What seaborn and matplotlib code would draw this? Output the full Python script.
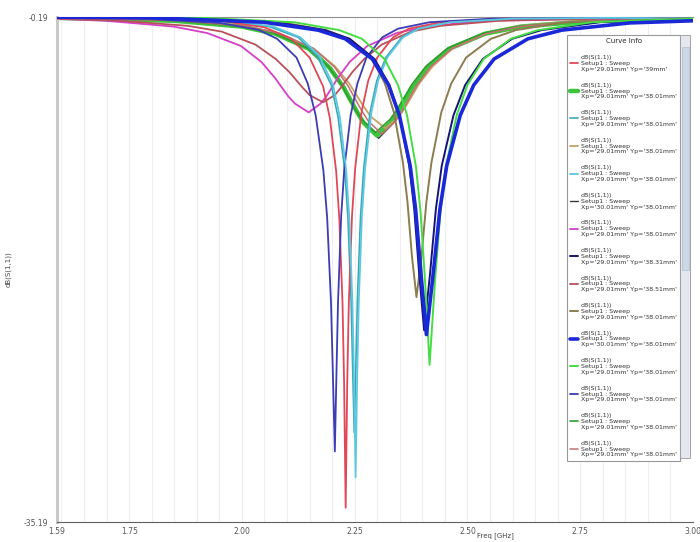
import seaborn as sns
import pandas as pd
import matplotlib.pyplot as plt
import numpy as np
from matplotlib.patches import Rectangle

# S11 sweep curves (freq in GHz, value in dB)

red_f = [1.59, 1.80, 1.95, 2.05, 2.11, 2.15, 2.18, 2.195, 2.209, 2.216, 2.223, 2.2265, 2.230, 2.2335, 2.237, 2.244, 2.251, 2.265, 2.28, 2.30, 2.335, 2.37, 2.44, 2.58, 2.80, 3.00]
red_db = [-0.25, -0.3, -0.45, -0.9, -1.7, -3.0, -5.0, -7.2, -10.9, -14.2, -20.0, -25.5, -34.2, -25.5, -20.0, -14.0, -10.7, -6.8, -4.6, -3.0, -1.6, -1.0, -0.55, -0.3, -0.25, -0.3]

cyan_f = [1.59, 1.82, 1.97, 2.07, 2.13, 2.172, 2.202, 2.217, 2.231, 2.238, 2.245, 2.2485, 2.252, 2.2555, 2.259, 2.266, 2.273, 2.287, 2.302, 2.322, 2.357, 2.392, 2.462, 2.60, 2.82, 3.00]
cyan_db = [-0.22, -0.28, -0.42, -0.85, -1.6, -2.9, -4.9, -7.1, -10.8, -14.1, -20.0, -25.2, -32.1, -25.2, -20.0, -14.0, -10.7, -6.8, -4.6, -3.0, -1.6, -1.0, -0.55, -0.3, -0.25, -0.3]

teal_f = [1.59, 1.81, 1.96, 2.06, 2.125, 2.167, 2.198, 2.213, 2.228, 2.235, 2.242, 2.2455, 2.249, 2.2525, 2.256, 2.263, 2.270, 2.284, 2.299, 2.319, 2.354, 2.389, 2.459, 2.60, 2.82, 3.00]
teal_db = [-0.22, -0.28, -0.42, -0.85, -1.6, -2.9, -4.9, -7.1, -10.8, -14.1, -19.8, -24.5, -29.0, -24.5, -19.8, -14.0, -10.7, -6.8, -4.6, -3.0, -1.6, -1.0, -0.55, -0.3, -0.25, -0.3]

indigo_f = [1.59, 1.78, 1.951, 2.036, 2.078, 2.121, 2.146, 2.1635, 2.1805, 2.189, 2.1975, 2.2017, 2.206, 2.2095, 2.213, 2.220, 2.227, 2.241, 2.256, 2.276, 2.311, 2.346, 2.416, 2.556, 2.80, 3.00]
indigo_db = [-0.22, -0.3, -0.6, -1.07, -1.7, -3.0, -4.8, -7.0, -10.8, -14.1, -20.0, -25.0, -30.3, -25.0, -20.0, -14.0, -10.7, -7.0, -4.8, -3.0, -1.6, -1.0, -0.55, -0.3, -0.25, -0.3]

blue_f = [1.59, 1.809, 2.049, 2.169, 2.229, 2.289, 2.325, 2.349, 2.373, 2.385, 2.397, 2.409, 2.424, 2.439, 2.454, 2.484, 2.514, 2.559, 2.634, 2.709, 2.859, 3.00]
blue_db = [-0.2, -0.25, -0.55, -1.1, -1.7, -3.1, -4.9, -7.0, -10.5, -13.5, -18.0, -22.2, -18.0, -13.5, -10.5, -7.0, -4.9, -3.1, -1.7, -1.1, -0.6, -0.45]

navy_f = [1.59, 1.854, 2.074, 2.184, 2.239, 2.294, 2.327, 2.349, 2.371, 2.382, 2.393, 2.404, 2.417, 2.430, 2.443, 2.469, 2.495, 2.534, 2.599, 2.664, 2.794, 3.00]
navy_db = [-0.2, -0.25, -0.55, -1.1, -1.7, -3.1, -4.9, -7.0, -10.5, -13.5, -18.0, -21.9, -18.0, -13.5, -10.5, -7.0, -4.9, -3.1, -1.7, -1.1, -0.55, -0.35]

lgreen_f = [1.59, 1.916, 2.116, 2.216, 2.266, 2.316, 2.346, 2.366, 2.386, 2.396, 2.406, 2.416, 2.428, 2.440, 2.452, 2.476, 2.500, 2.536, 2.596, 2.656, 2.776, 3.00]
lgreen_db = [-0.2, -0.25, -0.55, -1.1, -1.7, -3.1, -4.9, -7.0, -10.6, -13.7, -18.5, -24.3, -18.5, -13.7, -10.6, -7.0, -4.9, -3.1, -1.7, -1.1, -0.55, -0.3]

olive_f = [1.59, 1.887, 2.087, 2.187, 2.237, 2.287, 2.317, 2.337, 2.357, 2.367, 2.377, 2.387, 2.398, 2.409, 2.420, 2.442, 2.464, 2.497, 2.552, 2.607, 2.717, 3.00]
olive_db = [-0.2, -0.25, -0.55, -1.1, -1.7, -3.0, -4.8, -6.8, -10.3, -13.0, -16.8, -19.6, -16.8, -13.0, -10.3, -6.8, -4.8, -3.0, -1.7, -1.1, -0.55, -0.3]

magenta_f = [1.59, 1.698, 1.848, 1.923, 1.998, 2.043, 2.073, 2.103, 2.118, 2.148, 2.174, 2.187, 2.213, 2.239, 2.278, 2.343, 2.408, 2.538, 2.80, 3.00]
magenta_db = [-0.32, -0.45, -0.85, -1.3, -2.2, -3.3, -4.4, -5.7, -6.2, -6.8, -6.2, -5.7, -4.4, -3.3, -2.2, -1.3, -0.85, -0.45, -0.3, -0.35]

rose_f = [1.59, 1.730, 1.880, 1.955, 2.030, 2.075, 2.105, 2.135, 2.150, 2.180, 2.206, 2.219, 2.245, 2.271, 2.310, 2.375, 2.440, 2.570, 2.80, 3.00]
rose_db = [-0.3, -0.45, -0.8, -1.2, -2.1, -3.1, -4.0, -5.1, -5.6, -6.1, -5.6, -5.1, -4.0, -3.1, -2.1, -1.2, -0.8, -0.45, -0.3, -0.35]

green_f = [1.59, 1.849, 1.999, 2.074, 2.149, 2.194, 2.224, 2.254, 2.269, 2.299, 2.331, 2.347, 2.379, 2.411, 2.459, 2.539, 2.619, 2.779, 3.00]
green_db = [-0.25, -0.45, -0.85, -1.35, -2.4, -3.7, -5.0, -6.7, -7.5, -8.4, -7.5, -6.7, -5.0, -3.7, -2.4, -1.35, -0.85, -0.45, -0.3]

dgray_f = [1.59, 1.853, 2.003, 2.078, 2.153, 2.198, 2.228, 2.258, 2.273, 2.303, 2.334, 2.349, 2.380, 2.411, 2.458, 2.536, 2.613, 2.768, 3.00]
dgray_db = [-0.22, -0.45, -0.85, -1.35, -2.4, -3.7, -5.05, -6.8, -7.6, -8.6, -7.6, -6.8, -5.05, -3.7, -2.4, -1.35, -0.85, -0.45, -0.28]

green2_f = [1.59, 1.846, 1.996, 2.071, 2.146, 2.191, 2.221, 2.251, 2.266, 2.296, 2.328, 2.344, 2.376, 2.408, 2.456, 2.536, 2.616, 2.776, 3.00]
green2_db = [-0.25, -0.43, -0.82, -1.3, -2.35, -3.6, -4.9, -6.6, -7.3, -8.2, -7.3, -6.6, -4.9, -3.6, -2.35, -1.3, -0.82, -0.43, -0.3]

tan_f = [1.59, 1.838, 1.998, 2.078, 2.158, 2.206, 2.238, 2.270, 2.286, 2.318, 2.348, 2.363, 2.393, 2.423, 2.468, 2.543, 2.618, 2.768, 3.00]
tan_db = [-0.25, -0.4, -0.8, -1.3, -2.35, -3.6, -4.8, -6.4, -7.1, -7.9, -7.1, -6.4, -4.8, -3.6, -2.35, -1.3, -0.8, -0.4, -0.3]

rosew_f = [1.59, 1.860, 2.010, 2.085, 2.160, 2.205, 2.235, 2.265, 2.280, 2.310, 2.341, 2.356, 2.387, 2.418, 2.465, 2.543, 2.620, 2.775, 3.00]
rosew_db = [-0.24, -0.43, -0.83, -1.33, -2.4, -3.65, -4.95, -6.65, -7.4, -8.3, -7.4, -6.65, -4.95, -3.65, -2.4, -1.33, -0.83, -0.43, -0.3]

# legend order as in the "Curve Info" box, with the Xp / Yp sweep values
yp_labels = ["39mm", "38.01mm", "38.01mm", "38.01mm", "38.01mm", "38.01mm", "38.01mm", "38.31mm",
             "38.51mm", "38.01mm", "38.01mm", "38.01mm", "38.01mm", "38.01mm", "38.01mm"]
xp_labels = ["29.01mm", "29.01mm", "29.01mm", "29.01mm", "29.01mm", "30.01mm", "29.01mm", "29.01mm",
             "29.01mm", "29.01mm", "30.01mm", "29.01mm", "29.01mm", "29.01mm", "29.01mm"]

# (freq, dB, colour, linewidth, draw order)
curves = [
    (red_f, red_db, "#e04858", 1.3, 8),
    (green_f, green_db, "#3cc43c", 3.2, 1),
    (teal_f, teal_db, "#3aa8b8", 1.2, 7),
    (tan_f, tan_db, "#c8a064", 1.3, 2),
    (cyan_f, cyan_db, "#5cc8e0", 1.3, 9),
    (dgray_f, dgray_db, "#3a3a3a", 1.0, 0),
    (magenta_f, magenta_db, "#d63fc8", 1.3, 5),
    (navy_f, navy_db, "#141478", 1.4, 11),
    (rose_f, rose_db, "#b8505a", 1.3, 6),
    (olive_f, olive_db, "#8c7c50", 1.4, 10),
    (blue_f, blue_db, "#1a28d8", 2.6, 13),
    (lgreen_f, lgreen_db, "#44dd44", 1.4, 12),
    (indigo_f, indigo_db, "#3c3cb4", 1.3, 8),
    (green2_f, green2_db, "#2e9e2e", 1.2, 3),
    (rosew_f, rosew_db, "#c07070", 1.1, 4),
]

sns.set_style("white")
plt.rcParams["font.family"] = ["DejaVu Sans"]

fig = plt.figure(figsize=(7, 5.42), dpi=100)
ax = fig.add_axes([0.0814, 0.0369, 0.9086, 0.9317])

for i, (f, db, col, lw, z) in enumerate(curves):
    lab = "dB(S(1,1))\nSetup1 : Sweep\nXp='%s' Yp='%s'" % (xp_labels[i], yp_labels[i])
    df = pd.DataFrame({"freq": f, "db": db})
    sns.lineplot(data=df, x="freq", y="db", ax=ax, color=col, lw=lw, zorder=2 + z * 0.1, label=lab)

ax.set_xlim(1.59, 3.00)
ax.set_ylim(-35.19, -0.19)

ax.set_xticks([1.59, 1.75, 2.00, 2.25, 2.50, 2.75, 3.00])
ax.set_xticklabels(["1.59", "1.75", "2.00", "2.25", "2.50", "2.75", "3.00"])
ax.set_xticks(np.arange(1.60, 3.0, 0.05), minor=True)
ax.set_yticks([-35.19, -0.19])
ax.set_yticklabels(["-35.19", "-0.19"])
ax.tick_params(axis="both", labelsize=5.5, colors="#555555", direction="in", length=3)
ax.tick_params(axis="x", which="minor", direction="in", length=2, color="#777777")
ax.tick_params(axis="y", length=3, direction="out")

ax.grid(True, axis="x", which="both", color="#eeeeee", lw=0.8)

ax.spines["left"].set_color("#c8c8c8")
ax.spines["left"].set_linewidth(2.2)
ax.spines["bottom"].set_color("#606060")
ax.spines["top"].set_color("#909090")
ax.spines["right"].set_visible(False)

ax.set_xlabel("Freq [GHz]", fontsize=5, color="#444444")
ax.xaxis.set_label_coords(0.69, -0.021)
ax.set_ylabel("dB(S(1,1))", fontsize=5, color="#444444")
ax.yaxis.set_label_coords(-0.071, 0.5)

leg = ax.legend(loc="upper left", bbox_to_anchor=(0.802, 0.127, 0.178, 0.837), mode="expand",
                title="Curve Info", fontsize=4.5, title_fontsize=5, frameon=True, fancybox=False,
                handlelength=1.3, handletextpad=0.4, labelspacing=1.75, borderaxespad=0,
                borderpad=0.5, framealpha=1)
leg.get_frame().set_edgecolor("#999999")
leg.get_frame().set_linewidth(0.8)
leg.set_zorder(20)
for t in leg.get_texts():
    t.set_color("#333333")

# scroll bar of the Curve Info box
ax.add_patch(Rectangle((0.980, 0.127), 0.015, 0.837, transform=ax.transAxes,
                       facecolor="#e4e8ee", edgecolor="#999999", lw=0.6, zorder=21))
ax.add_patch(Rectangle((0.982, 0.50), 0.011, 0.44, transform=ax.transAxes,
                       facecolor="#cdd8e6", edgecolor="#b0bccc", lw=0.5, zorder=22))

plt.savefig("out.png", dpi=100)
